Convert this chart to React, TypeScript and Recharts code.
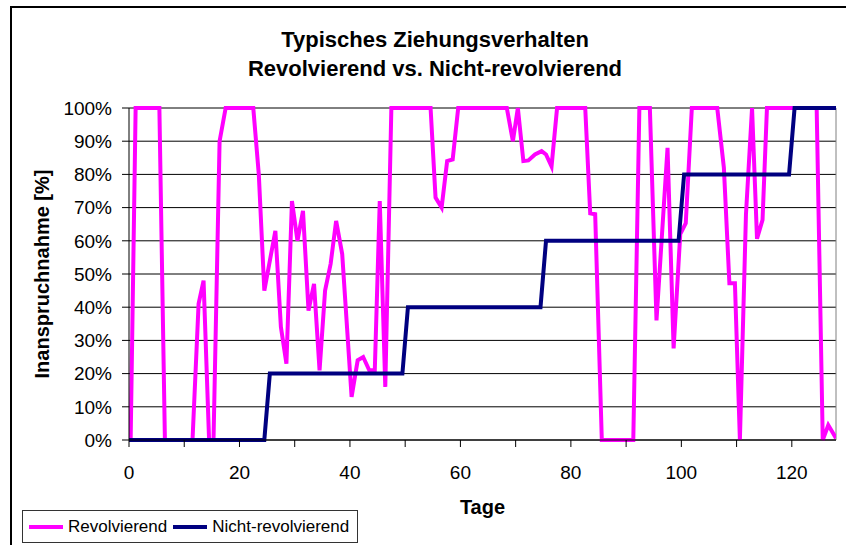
import { CartesianGrid, Legend, Line, LineChart, ReferenceLine, XAxis, YAxis } from "recharts"

// Revolvierend: Tage und Inanspruchnahme in %
const tageRev = [
  0.3, 1.2, 5.5, 6.5, 11.5, 12.6, 13.5, 14.5, 15.3, 16.4, 17.5, 22.5, 23.5, 24.5, 26.5, 27.5, 28.5, 29.5, 30.5,
  31.5, 32.5, 33.5, 34.5, 35.5, 36.5, 37.5, 38.6, 40.3, 41.4, 42.4, 43.5, 44.5, 45.4, 46.4, 47.5, 54.6, 55.5,
  56.6, 57.6, 58.6, 59.6, 68.4, 69.5, 70.4, 71.4, 72.3, 73.5, 74.7, 75.5, 76.5, 77.5, 82.6, 83.5, 84.4, 85.6,
  91.3, 92.4, 94.3, 95.5, 97.5, 98.6, 99.8, 100.8, 101.9, 106.5, 107.7, 108.7, 109.7, 110.6, 111.7, 112.8,
  113.7, 114.7, 115.5, 124.5, 125.6, 126.6, 128,
]
const revolvierend = [
  0, 100, 100, 0, 0, 41, 48, 0, 0, 90, 100, 100, 80, 45, 63, 34, 23, 72, 60,
  69, 39, 47, 21, 45, 53, 66, 56, 13, 24, 25, 21, 21, 72, 16, 100, 100, 73,
  70, 84, 84.5, 100, 100, 90, 100, 84, 84.2, 86, 87, 86, 82.4, 100, 100, 68.3, 68, 0,
  0, 100, 100, 36, 88, 27.6, 62, 65.3, 100, 100, 82, 47.2, 47.2, 0, 68, 100,
  60.6, 66.3, 100, 100, 0, 4.5, 0.5,
]

// Nicht-revolvierend
const tageNicht = [0, 24.5, 25.5, 49.5, 50.5, 74.5, 75.5, 99.5, 100.5, 119.5, 120.5, 128]
const nichtRevolvierend = [0, 0, 20, 20, 40, 40, 60, 60, 80, 80, 100, 100]

const xTicks = [0, 10, 20, 30, 40, 50, 60, 70, 80, 90, 100, 110, 120]
const yTicks = [0, 10, 20, 30, 40, 50, 60, 70, 80, 90, 100]

const revData = tageRev.map((t, i) => ({ tag: t, wert: revolvierend[i] }))
const nichtData = tageNicht.map((t, i) => ({ tag: t, wert: nichtRevolvierend[i] }))

const FONT = "'Liberation Sans', Arial, Helvetica, sans-serif"

function YTitle({ viewBox }: any) {
  const cx = 49
  const cy = viewBox ? viewBox.y + viewBox.height / 2 : 274
  return (
    <text
      x={cx}
      y={cy}
      transform={`rotate(-90 ${cx} ${cy})`}
      textAnchor="middle"
      fontFamily={FONT}
      fontSize={20}
      fontWeight="bold"
      fill="#000"
    >
      Inanspruchnahme [%]
    </text>
  )
}

function XTitle({ viewBox }: any) {
  const cx = viewBox ? viewBox.x + viewBox.width / 2 : 482
  return (
    <text x={cx} y={514} textAnchor="middle" fontFamily={FONT} fontSize={20} fontWeight="bold" fill="#000">
      Tage
    </text>
  )
}

function LegendBox() {
  const item = (color: string, label: string) => (
    <div style={{ display: "flex", alignItems: "center", marginRight: 4, whiteSpace: "nowrap", flexShrink: 0 }}>
      <svg width={38} height={8} style={{ marginRight: 3 }}>
        <line x1={2} y1={4} x2={36} y2={4} stroke={color} strokeWidth={4} />
      </svg>
      <span>{label}</span>
    </div>
  )
  return (
    <div
      style={{
        boxSizing: "border-box",
        width: 336,
        height: 33,
        border: "1px solid #333",
        display: "flex",
        alignItems: "center",
        paddingLeft: 4,
        fontFamily: FONT,
        fontSize: 17,
        color: "#000",
        background: "#fff",
        whiteSpace: "nowrap",
      }}
    >
      {item("#FF00FF", "Revolvierend")}
      {item("#000080", "Nicht-revolvierend")}
    </div>
  )
}

export default function App() {
  return (
    <div style={{ position: "absolute", left: 0, top: 0, width: 846, height: 545, background: "#fff", overflow: "hidden" }}>
      <div
        style={{
          position: "absolute",
          left: 10,
          top: 6,
          width: 900,
          height: 600,
          borderLeft: "2px solid #000",
          borderTop: "2px solid #000",
        }}
      />
      <div
        style={{
          position: "absolute",
          left: 135,
          top: 25,
          width: 600,
          textAlign: "center",
          fontFamily: FONT,
          fontWeight: "bold",
          fontSize: 22,
          lineHeight: "29px",
          color: "#000",
        }}
      >
        Typisches Ziehungsverhalten
        <br />
        Revolvierend vs. Nicht-revolvierend
      </div>
      <LineChart width={846} height={545} margin={{ top: 108, right: 10, bottom: 65, left: 0 }}>
        <CartesianGrid horizontal vertical={false} stroke="#000" strokeWidth={1} />
        <XAxis
          type="number"
          dataKey="tag"
          domain={[0, 128]}
          ticks={xTicks}
          allowDataOverflow
          height={40}
          tickSize={7}
          tickMargin={19}
          tickFormatter={(v) => (v % 20 === 0 ? String(v) : "")}
          stroke="#000"
          tick={{ fill: "#000", fontSize: 19, fontFamily: FONT }}
          label={<XTitle />}
        />
        <YAxis
          type="number"
          domain={[0, 100]}
          ticks={yTicks}
          width={129}
          tickSize={7}
          tickMargin={10}
          tickFormatter={(v) => `${v}%`}
          stroke="#000"
          tick={{ fill: "#000", fontSize: 19, fontFamily: FONT }}
          label={<YTitle />}
        />
        <ReferenceLine y={100} stroke="#808080" strokeWidth={1} />
        <ReferenceLine x={128} stroke="#808080" strokeWidth={1} />
        <Line
          data={revData}
          dataKey="wert"
          name="Revolvierend"
          type="linear"
          stroke="#FF00FF"
          strokeWidth={4}
          dot={false}
          isAnimationActive={false}
        />
        <Line
          data={nichtData}
          dataKey="wert"
          name="Nicht-revolvierend"
          type="linear"
          stroke="#000080"
          strokeWidth={4}
          dot={false}
          isAnimationActive={false}
        />
        <Legend
          layout="horizontal"
          align="center"
          verticalAlign="middle"
          content={<LegendBox />}
          wrapperStyle={{ left: 22, top: 510, width: 336, height: 33 }}
        />
      </LineChart>
    </div>
  )
}
